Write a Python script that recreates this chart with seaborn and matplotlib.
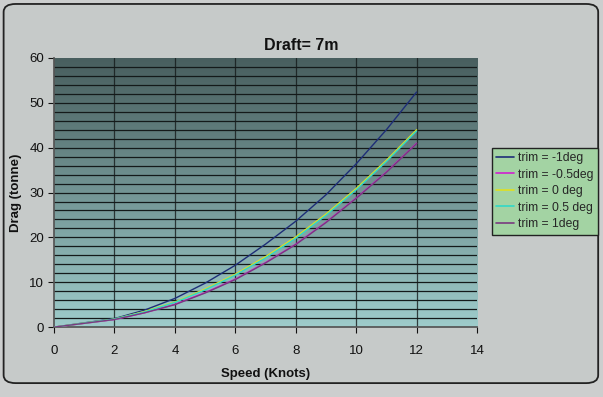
import numpy as np
import pandas as pd
import matplotlib
matplotlib.use("Agg")
import matplotlib.pyplot as plt
import seaborn as sns
from matplotlib.patches import FancyBboxPatch
from matplotlib.lines import Line2D

# ---- data ----
speed = [0, 2, 3, 4, 5, 6, 7, 8, 9, 10, 11, 12]
trim_m1 = [0, 1.9, 3.8, 6.4, 9.8, 13.8, 18.5, 23.6, 29.5, 36.4, 44.0, 52.4]
trim_m05 = [0, 1.7, 3.2, 5.1, 7.7, 10.7, 14.4, 18.5, 23.4, 28.8, 34.6, 41.0]
trim_0 = [0, 1.8, 3.5, 5.6, 8.5, 11.8, 15.7, 20.1, 25.2, 30.9, 37.2, 44.0]
trim_05 = [0, 1.8, 3.4, 5.5, 8.3, 11.6, 15.4, 19.8, 24.9, 30.6, 36.9, 43.7]
trim_1 = [0, 1.7, 3.2, 5.0, 7.6, 10.6, 14.3, 18.4, 23.3, 28.7, 34.5, 40.9]
series_names = ["trim = -1deg", "trim = -0.5deg", "trim = 0 deg", "trim = 0.5 deg", "trim = 1deg"]
x_ticks = [0, 2, 4, 6, 8, 10, 12, 14]
y_ticks = [0, 10, 20, 30, 40, 50, 60]

rows = []
for name, vals in zip(series_names, [trim_m1, trim_m05, trim_0, trim_05, trim_1]):
    for s, v in zip(speed, vals):
        rows.append({"Speed": s, "Drag": v, "Series": name})
df = pd.DataFrame(rows)

palette = {
    "trim = -1deg": "#1E2E78",
    "trim = -0.5deg": "#D020D0",
    "trim = 0 deg": "#E0E020",
    "trim = 0.5 deg": "#30D8C8",
    "trim = 1deg": "#7A3A80",
}

sns.set_theme(style="white")
plt.rcParams["font.family"] = ["Liberation Sans", "DejaVu Sans"]

fig = plt.figure(figsize=(6.03, 3.97), dpi=100)
fig.patch.set_facecolor("#CCCECE")

# outer rounded chart frame
frame = FancyBboxPatch((0.006, 0.035), 0.986, 0.955,
                       boxstyle="round,pad=0,rounding_size=0.02",
                       transform=fig.transFigure, facecolor="#C6CAC9",
                       edgecolor="#222222", linewidth=1.3, zorder=-10)
fig.patches.append(frame)

ax = fig.add_axes([0.0896, 0.176, 0.7015, 0.678])
ax.set_zorder(1)

# gradient background
grad = np.linspace(0, 1, 256).reshape(-1, 1)
top = np.array([0x48, 0x5E, 0x5E]) / 255
bot = np.array([0x9E, 0xCC, 0xCB]) / 255
img = top[None, None, :] * (1 - grad[:, :, None]) + bot[None, None, :] * grad[:, :, None]
ax.imshow(img, extent=[0, 14, 0, 60], aspect="auto", origin="upper", zorder=0)

# grid
for yv in np.arange(2, 60, 2):
    ax.axhline(yv, color="#141a1a", lw=0.9, zorder=1)
for xv in np.arange(2, 14, 2):
    ax.axvline(xv, color="#141a1a", lw=0.9, zorder=1, alpha=0.8)

sns.lineplot(data=df, x="Speed", y="Drag", hue="Series", palette=palette,
             hue_order=series_names, ax=ax, lw=1.0, legend=False, zorder=3,
             estimator=None, sort=True)

ax.set_xlim(0, 14)
ax.set_ylim(0, 60)
ax.set_xticks(x_ticks)
ax.set_yticks(y_ticks)
ax.tick_params(axis="both", labelsize=9.5, colors="#111111", length=4,
               direction="out", width=0.8, left=True, bottom=True, pad=3)
ax.tick_params(axis="x", pad=9)
for sp in ["top", "right"]:
    ax.spines[sp].set_visible(False)
ax.spines["left"].set_color("#555555")
ax.spines["bottom"].set_color("#555555")
ax.set_xlabel("Speed (Knots)", fontsize=9.5, fontweight="bold", color="#111111", labelpad=8)
ax.set_ylabel("Drag (tonne)", fontsize=9.5, fontweight="bold", color="#111111", labelpad=5)

fig.text(0.5, 0.885, "Draft= 7m", ha="center", va="center",
         fontsize=11.5, fontweight="bold", color="#111111")

# legend
handles = [Line2D([0], [0], color=palette[n], lw=1.2) for n in series_names]
leg = fig.legend(handles, series_names, loc="upper left",
                 bbox_to_anchor=(0.816, 0.628), frameon=True, fontsize=8.7,
                 handlelength=1.5, handletextpad=0.3, labelspacing=0.38,
                 borderpad=0.35, fancybox=False, borderaxespad=0)
leg.get_frame().set_facecolor("#A3D3A3")
leg.get_frame().set_edgecolor("#222222")
leg.get_frame().set_linewidth(1.0)
leg.get_frame().set_alpha(1)
leg.set_zorder(5)

fig.savefig("out.png", dpi=100, facecolor=fig.get_facecolor())
